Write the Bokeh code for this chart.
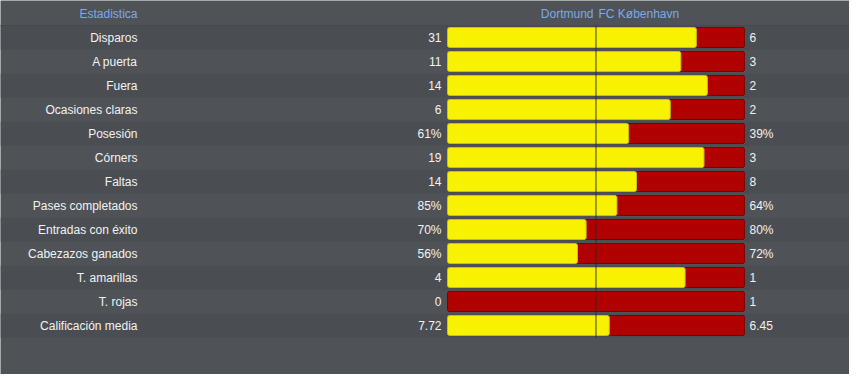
from bokeh.plotting import figure
from bokeh.models import ColumnDataSource, Range1d
from bokeh.core.properties import value
from bokeh.embed import file_html
from bokeh.resources import INLINE

# ---- data ----
header_label = "Estadistica"
home_team = "Dortmund"
away_team = "FC København"
categories = ["Disparos", "A puerta", "Fuera", "Ocasiones claras", "Posesión", "Córners",
              "Faltas", "Pases completados", "Entradas con éxito", "Cabezazos ganados",
              "T. amarillas", "T. rojas", "Calificación media"]
home_values = [31, 11, 14, 6, 61, 19, 14, 85, 70, 56, 4, 0, 7.72]
away_values = [6, 3, 2, 2, 39, 3, 8, 64, 80, 72, 1, 1, 6.45]
home_labels = ["31", "11", "14", "6", "61%", "19", "14", "85%", "70%", "56%", "4", "0", "7.72"]
away_labels = ["6", "3", "2", "2", "39%", "3", "8", "64%", "80%", "72%", "1", "1", "6.45"]

# ---- layout ----
W, H = 849, 374
BAR_PX = 297.0       # pixel width of a full bar
BAR_LEFT = 447.0     # pixel x of bar start within figure
ROW_PX = 24.0
ROW0 = 37.0          # pixel y of first row centre within figure

x0 = -BAR_LEFT / BAR_PX
x1 = (W - BAR_LEFT) / BAR_PX
y_top = -ROW0 / ROW_PX
y_bot = (H - ROW0) / ROW_PX

p = figure(width=W, height=H, output_backend="svg", toolbar_location=None,
           x_range=Range1d(x0, x1), y_range=Range1d(y_bot, y_top),
           min_border=0, min_border_left=0, min_border_right=0,
           min_border_top=0, min_border_bottom=0)
p.axis.visible = False
p.grid.visible = False
p.outline_line_color = None
p.background_fill_color = "#4f5357"
p.border_fill_color = "#4f5357"

n = len(categories)
rows = list(range(n))

# alternating row bands
band_rows = [i for i in rows if i % 2 == 0]
p.hbar(y=band_rows, left=x0 - 1, right=x1 + 1, height=1.0,
       fill_color="#4a4e52", line_color=None)
# separator under header
p.segment(x0=[x0 - 1], x1=[x1 + 1], y0=[-0.5], y1=[-0.5],
          line_color="#464a4d", line_width=1)

frac = [h / (h + a) if (h + a) else 0.5 for h, a in zip(home_values, away_values)]

# red (away) full bars
p.hbar(y=rows, left=0, right=1, height=20 / 24,
       fill_color="#b00000", line_color="#7d0000", line_width=1, border_radius=2)
# yellow (home) portion
yr = [i for i in rows if frac[i] > 0]
p.hbar(y=yr, left=0, right=[frac[i] for i in yr], height=20 / 24,
       fill_color="#f8f200", line_color="#c9c200", line_width=1, border_radius=2)

# centre line
p.segment(x0=[0.5], x1=[0.5], y0=[-0.5], y1=[n - 0.5],
          line_color="#2b2b2b", line_width=1, line_alpha=0.9)

font = value("Liberation Sans")
fs = "12px"
txt = "#f2f2f2"

src = ColumnDataSource(dict(y=rows, cat=categories, hl=home_labels, al=away_labels))
p.text(x=(137 - BAR_LEFT) / BAR_PX, y="y", text="cat", source=src,
       text_align="right", text_baseline="middle", text_font=font,
       text_font_size=fs, text_color=txt)
p.text(x=-6 / BAR_PX, y="y", text="hl", source=src,
       text_align="right", text_baseline="middle", text_font=font,
       text_font_size=fs, text_color=txt)
p.text(x=1 + 5 / BAR_PX, y="y", text="al", source=src,
       text_align="left", text_baseline="middle", text_font=font,
       text_font_size=fs, text_color=txt)

hy = -1.0
blue = "#7fa8e6"
p.text(x=[(137 - BAR_LEFT) / BAR_PX], y=[hy], text=[header_label],
       text_align="right", text_baseline="middle", text_font=font,
       text_font_size=fs, text_color=blue)
p.text(x=[0.5 - 2.5 / BAR_PX], y=[hy], text=[home_team],
       text_align="right", text_baseline="middle", text_font=font,
       text_font_size=fs, text_color=blue)
p.text(x=[0.5 + 2.5 / BAR_PX], y=[hy], text=[away_team],
       text_align="left", text_baseline="middle", text_font=font,
       text_font_size=fs, text_color=blue)

open("out.html", "w").write(file_html(p, INLINE))
